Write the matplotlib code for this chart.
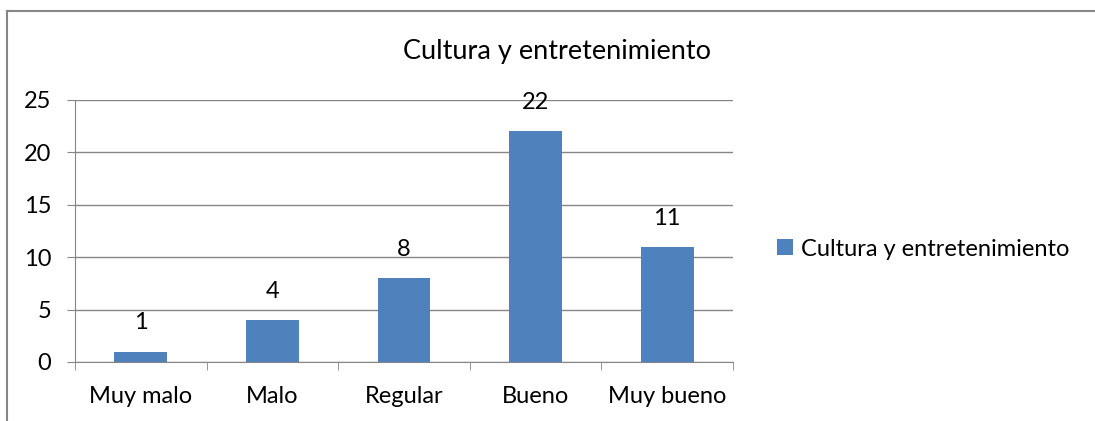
import matplotlib.pyplot as plt
from matplotlib.lines import Line2D

# Datos
categorias = ['Muy malo', 'Malo', 'Regular', 'Bueno', 'Muy bueno']
valores = [1, 4, 8, 22, 11]
serie = 'Cultura y entretenimiento'
yticks = [0, 5, 10, 15, 20, 25]

plt.rcParams['font.family'] = ['Lato', 'DejaVu Sans']
color_barra = '#4F81BD'
gris = '#868686'
fs = 17

fig = plt.figure(figsize=(10.95, 4.21), dpi=100)
W, H = 1095, 421
ax = fig.add_axes([75 / W, 1 - 362 / H, 658 / W, 262 / H])

x = list(range(len(categorias)))
barras = ax.bar(x, valores, width=0.4, color=color_barra, label=serie, zorder=3)

for xi, v in zip(x, valores):
    ax.annotate(str(v), (xi, v), xytext=(0, 13), textcoords='offset points',
                ha='center', va='bottom', fontsize=fs)

ax.set_xlim(-0.5, len(categorias) - 0.5)
ax.set_ylim(0, 25)
ax.set_yticks(yticks)
ax.set_xticks(x)
ax.set_xticklabels(categorias, fontsize=fs)
ax.tick_params(axis='y', labelsize=fs, length=6, color=gris, pad=11)
ax.tick_params(axis='x', length=0, pad=17)
# marcas entre categorias
ax.set_xticks([i + 0.5 for i in range(-1, len(categorias))], minor=True)
ax.tick_params(axis='x', which='minor', length=6, color=gris)

ax.grid(axis='y', color=gris, linewidth=1, zorder=0)
for s in ['top', 'right']:
    ax.spines[s].set_visible(False)
ax.spines['left'].set_color(gris)
ax.spines['bottom'].set_color(gris)

fig.text(557 / W, 1 - 52 / H, serie, ha='center', va='center', fontsize=19.5)

fig.legend(handles=[barras], labels=[serie], loc='center left',
           bbox_to_anchor=(756 / W, 1 - 249 / H), frameon=False, fontsize=fs,
           handlelength=0.65, handleheight=0.65, handletextpad=0.35)

# borde del grafico
fig.add_artist(Line2D([6.5 / W, 6.5 / W], [0, 1 - 11 / H], transform=fig.transFigure,
                      color=gris, linewidth=1.5))
fig.add_artist(Line2D([6.5 / W, 1], [1 - 11 / H, 1 - 11 / H], transform=fig.transFigure,
                      color=gris, linewidth=1.5))

fig.savefig('out.png', dpi=100)
